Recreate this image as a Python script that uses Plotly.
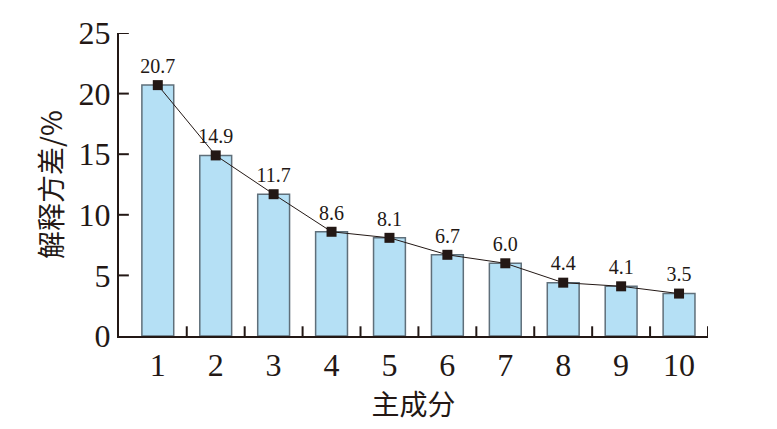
import plotly.graph_objects as go

components = [1, 2, 3, 4, 5, 6, 7, 8, 9, 10]
explained = [20.7, 14.9, 11.7, 8.6, 8.1, 6.7, 6.0, 4.4, 4.1, 3.5]
labels = ["20.7", "14.9", "11.7", "8.6", "8.1", "6.7", "6.0", "4.4", "4.1", "3.5"]
y_ticks = [0, 5, 10, 15, 20, 25]
boundaries = [c + 0.5 for c in components]

serif = "Liberation Serif, Times New Roman, serif"
cjk = "Noto Sans CJK SC"
ink = "#231815"

xr = [0.33, 10.5]
yr = [0, 25]
# tick mark lengths expressed in axis units (about 10 px)
xtick_len = 0.8
ytick_len = 0.17

fig = go.Figure()
fig.add_trace(go.Bar(
    x=components, y=explained, width=0.55,
    marker=dict(color="#b5e0f5", line=dict(color="#5f6f7a", width=1.5)),
    showlegend=False, hoverinfo="skip",
))
fig.add_trace(go.Scatter(
    x=components, y=explained, mode="lines+markers+text",
    line=dict(color=ink, width=1),
    marker=dict(symbol="square", size=10, color=ink, line=dict(color=ink, width=0)),
    text=labels, textposition="top center",
    textfont=dict(family=serif, size=20, color=ink),
    showlegend=False,
))

# inside tick marks drawn as line segments at the axis tick positions
tx, ty = [], []
for b in boundaries:
    tx += [b, b, None]
    ty += [yr[0], yr[0] + xtick_len, None]
for v in y_ticks[1:]:
    tx += [xr[0], xr[0] + ytick_len, None]
    ty += [v, v, None]
fig.add_trace(go.Scatter(x=tx, y=ty, mode="lines", line=dict(color=ink, width=2),
                         showlegend=False, hoverinfo="skip", cliponaxis=False))

# page body has an 8px margin; figure sized so the plot area lands where the reference has it
fig.update_layout(
    template="none",
    width=769, height=421,
    margin=dict(l=111, r=69, t=25, b=93),
    plot_bgcolor="white", paper_bgcolor="white",
    xaxis=dict(
        range=xr, tickmode="array", tickvals=boundaries,
        ticktext=[str(c) for c in components],
        ticklabelshift=-29,
        ticks="", showgrid=False, zeroline=False, automargin=False,
        showline=True, linecolor=ink, linewidth=2,
        tickfont=dict(family=serif, size=32, color=ink),
        title=dict(text="主成分", font=dict(family=cjk, size=28, color=ink), standoff=0),
    ),
    yaxis=dict(
        range=yr, tickmode="array", tickvals=y_ticks,
        ticks="", showgrid=False, zeroline=False, automargin=False,
        showline=True, linecolor=ink, linewidth=2,
        tickfont=dict(family=serif, size=32, color=ink),
        title=dict(text="解释方差/%", font=dict(family=cjk, size=28, color=ink), standoff=8),
    ),
)
fig.write_html("out.html")
